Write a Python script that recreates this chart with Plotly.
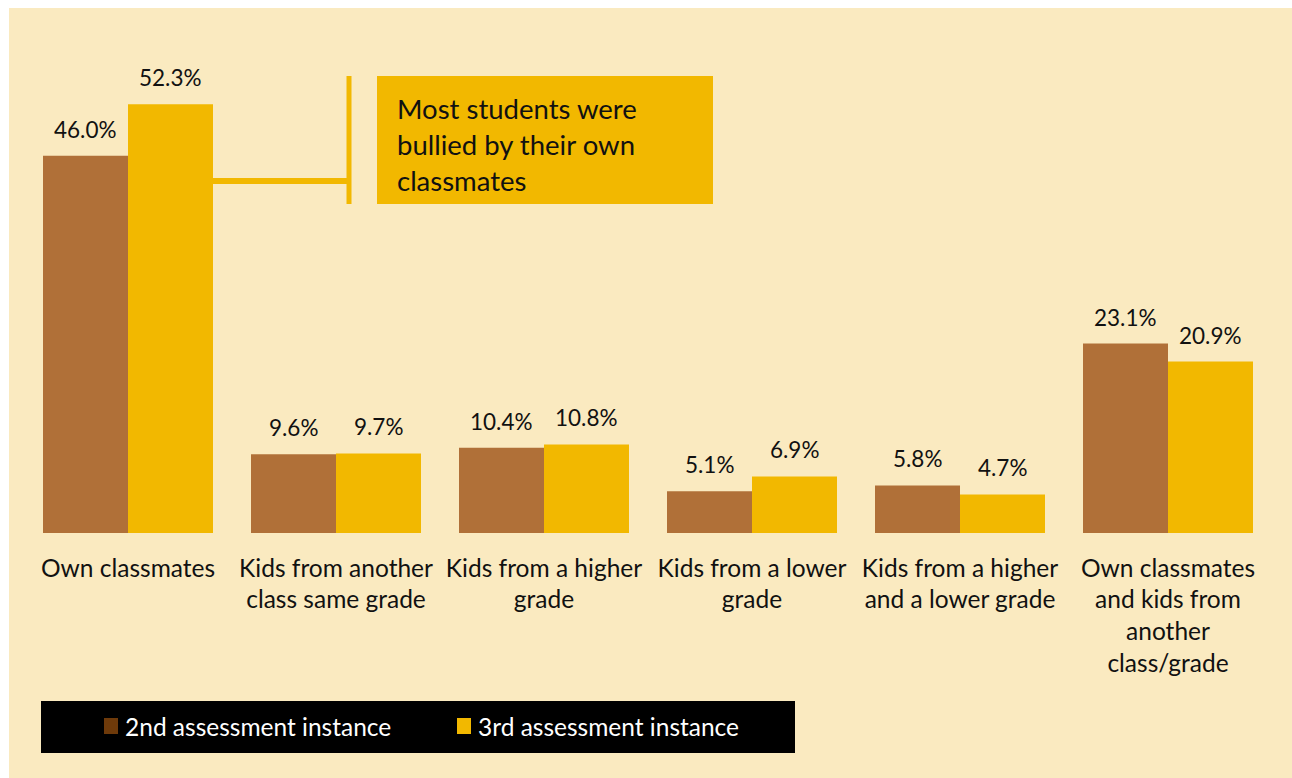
import plotly.graph_objects as go

# Data
categories = [
    "Own classmates",
    "Kids from another<br>class same grade",
    "Kids from a higher<br>grade",
    "Kids from a lower<br>grade",
    "Kids from a higher<br>and a lower grade",
    "Own classmates<br>and kids from<br>another<br>class/grade",
]
series_names = ["2nd assessment instance", "3rd assessment instance"]
second_instance = [46.0, 9.6, 10.4, 5.1, 5.8, 23.1]
third_instance = [52.3, 9.7, 10.8, 6.9, 4.7, 20.9]
callout_text = "Most students were<br>bullied by their own<br>classmates"

# Styling
BG = "#FAEAC0"
BROWN = "#B07038"
BROWN_DARK = "#6E3A0A"
GOLD = "#F2B800"
FONT = "Lato"
TEXT = "#111111"

W, H = 1292, 778
ML, MR, MT, MB = 24, 20, 41, 245
plot_w = W - ML - MR
plot_h = H - MT - MB
Y_MAX = 60
BARGAP = 0.1827
half = (1 - BARGAP) / 4  # center offset of each bar in a group


def px_x(px):
    return (px - ML) / plot_w


def px_y(py):
    return (H - MB - py) / plot_h


fig = go.Figure()
x_idx = list(range(len(categories)))
fig.add_trace(go.Bar(x=x_idx, y=second_instance, name=series_names[0],
                     marker=dict(color=BROWN, line=dict(width=0)), showlegend=False))
fig.add_trace(go.Bar(x=x_idx, y=third_instance, name=series_names[1],
                     marker=dict(color=GOLD, line=dict(width=0)), showlegend=False))

shapes = []
annotations = []

# page frame: white strip on top/left, beige panel
shapes.append(dict(type="rect", xref="paper", yref="paper", layer="below",
                   x0=px_x(9), x1=px_x(W + 5), y0=px_y(8), y1=px_y(H + 5),
                   fillcolor=BG, line=dict(width=0)))

# value labels above bars
for vals, off in ((second_instance, -half), (third_instance, half)):
    for i, v in enumerate(vals):
        annotations.append(dict(x=i + off, y=v, xref="x", yref="y",
                                text=f"{v:.1f}%", showarrow=False,
                                yanchor="bottom", yshift=11,
                                font=dict(family=FONT, size=22.5, color=TEXT)))

# callout bracket and box
bar_edge = 0 + 2 * half
bracket_x = (349 - 128) / 208
to_val = lambda py: (533 - py) / plot_h * Y_MAX
shapes.append(dict(type="line", xref="x", yref="y", x0=bar_edge, x1=bracket_x,
                   y0=to_val(181), y1=to_val(181), line=dict(color=GOLD, width=6)))
shapes.append(dict(type="line", xref="x", yref="y", x0=bracket_x, x1=bracket_x,
                   y0=to_val(76), y1=to_val(204), line=dict(color=GOLD, width=5)))
shapes.append(dict(type="rect", xref="paper", yref="paper",
                   x0=px_x(377), x1=px_x(713), y0=px_y(204), y1=px_y(76),
                   fillcolor=GOLD, line=dict(width=0)))
annotations.append(dict(x=px_x(395), y=px_y(144), xref="paper", yref="paper",
                        text=callout_text, showarrow=False, align="left",
                        xanchor="left", yanchor="middle",
                        font=dict(family=FONT, size=27.5, color=TEXT)))

# legend panel
shapes.append(dict(type="rect", xref="paper", yref="paper",
                   x0=px_x(41), x1=px_x(795), y0=px_y(753), y1=px_y(701),
                   fillcolor="#000000", line=dict(width=0)))
for sw_x, color, name, tx in ((104, BROWN_DARK, series_names[0], 123),
                              (457, GOLD, series_names[1], 476)):
    shapes.append(dict(type="rect", xref="paper", yref="paper",
                       x0=px_x(sw_x), x1=px_x(sw_x + 14), y0=px_y(734), y1=px_y(718),
                       fillcolor=color, line=dict(width=0)))
    annotations.append(dict(x=px_x(tx), y=px_y(726), xref="paper", yref="paper",
                            text=name, showarrow=False, xanchor="left", yanchor="middle",
                            font=dict(family=FONT, size=24.5, color="#FFFFFF")))

fig.update_layout(
    width=W, height=H,
    margin=dict(l=ML, r=MR, t=MT, b=MB, pad=0),
    paper_bgcolor="#FFFFFF",
    plot_bgcolor="rgba(0,0,0,0)",
    barmode="group", bargap=BARGAP, bargroupgap=0,
    shapes=shapes, annotations=annotations,
    xaxis=dict(tickmode="array", tickvals=x_idx, ticktext=categories,
               range=[-0.5, len(categories) - 0.5], showgrid=False, zeroline=False,
               showline=False, ticks="", ticklabelstandoff=18,
               tickfont=dict(family=FONT, size=24.5, color=TEXT)),
    yaxis=dict(range=[0, Y_MAX], visible=False, showgrid=False, zeroline=False),
    showlegend=False,
)

fig.write_html("out.html")
